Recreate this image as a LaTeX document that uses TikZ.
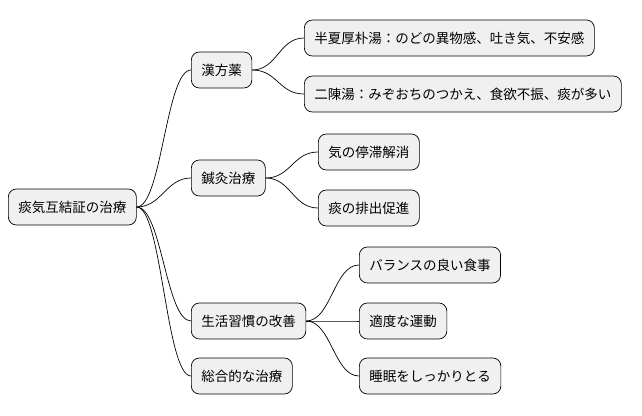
\documentclass[tikz,border=0pt]{standalone}
\usepackage{fontspec}
\usetikzlibrary{calc}
\newfontfamily\cjk{Noto Sans CJK JP}
\begin{document}
\begin{tikzpicture}[x=1pt,y=-1pt,
  box/.style={draw=black,fill=black!6,rounded corners=8pt,minimum height=36pt,inner xsep=10pt,anchor=west,font=\cjk\fontsize{13.5}{15}\selectfont,line width=0.7pt},
  link/.style={draw=black,line width=0.7pt}]
\useasboundingbox (0,0) rectangle (642,415);
\node[box] (r) at (8,207) {痰気互結証の治療};
\node[box] (a) at (191,70) {漢方薬};
\node[box] (a1) at (304,38) {半夏厚朴湯：のどの異物感、吐き気、不安感};
\node[box] (a2) at (304,94) {二陳湯：みぞおちのつかえ、食欲不振、痰が多い};
\node[box] (b) at (191,178) {鍼灸治療};
\node[box] (b1) at (318,152) {気の停滞解消};
\node[box] (b2) at (318,208) {痰の排出促進};
\node[box] (c) at (191,321) {生活習慣の改善};
\node[box] (c1) at (359,265) {バランスの良い食事};
\node[box] (c2) at (359,321) {適度な運動};
\node[box] (c3) at (359,376) {睡眠をしっかりとる};
\node[box] (d) at (191,376) {総合的な治療};
\foreach \p/\c in {r/a,r/b,r/c,r/d,a/a1,a/a2,b/b1,b/b2,c/c1,c/c2,c/c3}{
  \draw[link] (\p.east) .. controls ($(\p.east)+(25,0)$) and ($(\c.west)+(-25,0)$) .. (\c.west);
}
\end{tikzpicture}
\end{document}
